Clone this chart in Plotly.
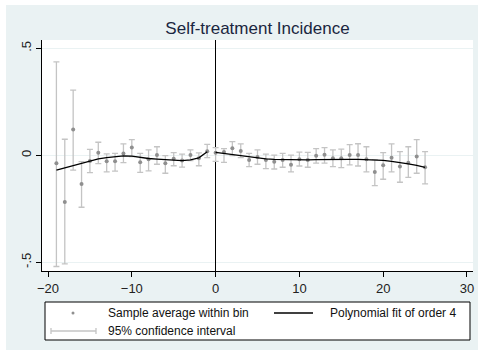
import plotly.graph_objects as go

# ---- data ----
bins = list(range(-19, 26))
avg = [-0.037, -0.218, 0.120, -0.134, -0.027, 0.012, -0.028, -0.028, 0.008,
       0.036, -0.033, -0.019, 0.001, -0.037, -0.016, -0.024, 0.001, -0.014, 0.019,
       0.012, 0.015, 0.033, 0.020, -0.022, -0.008, -0.022, -0.030, -0.022, -0.044,
       -0.019, -0.022, -0.002, 0.003, -0.014, -0.014, 0.001, 0.001, -0.019, -0.078,
       -0.047, -0.011, -0.053, -0.035, -0.006, -0.056]
ci_hi = [0.437, 0.075, 0.305, -0.030, 0.028, 0.061, 0.007, 0.009, 0.053,
         0.073, 0.009, 0.025, 0.040, -0.002, 0.012, 0.005, 0.025, 0.011, 0.051,
         0.036, 0.031, 0.064, 0.053, 0.009, 0.025, 0.005, 0.001, 0.009, 0.001,
         0.015, 0.014, 0.031, 0.036, 0.025, 0.029, 0.050, 0.054, 0.040, -0.020,
         0.012, 0.053, 0.017, 0.040, 0.073, 0.017]
ci_lo = [-0.520, -0.508, -0.069, -0.243, -0.081, -0.039, -0.078, -0.074, -0.034,
         -0.006, -0.080, -0.073, -0.042, -0.084, -0.049, -0.055, -0.025, -0.049, -0.011,
         -0.028, -0.033, -0.002, -0.011, -0.053, -0.042, -0.062, -0.064, -0.056, -0.078,
         -0.050, -0.056, -0.037, -0.037, -0.053, -0.058, -0.045, -0.050, -0.078, -0.142,
         -0.112, -0.078, -0.126, -0.103, -0.084, -0.134]

fit_left_x = list(range(-19, 0))
fit_left_y = [-0.069, -0.058, -0.050, -0.037, -0.027, -0.017, -0.011, -0.006, -0.003,
              -0.004, -0.010, -0.015, -0.018, -0.021, -0.024, -0.025, -0.021, -0.012, 0.017]
fit_right_x = list(range(0, 26))
fit_right_y = [0.014, 0.009, 0.003, -0.003, -0.008, -0.013, -0.017, -0.019, -0.020,
               -0.021, -0.022, -0.021, -0.020, -0.019, -0.019, -0.019, -0.019, -0.019,
               -0.020, -0.021, -0.024, -0.028, -0.033, -0.040, -0.047, -0.056]

x_ticks = [-20, -10, 0, 10, 20, 30]
y_ticks = [-0.5, 0, 0.5]
y_ticktext = ["-.5", "0", ".5"]
title_text = "Self-treatment Incidence"
legend_labels = ["Sample average within bin", "Polynomial fit of order 4", "95% confidence interval"]

BG = "#EAF2F3"
FONT = "Liberation Sans, Arial, sans-serif"

err_plus = [h - a for h, a in zip(ci_hi, avg)]
err_minus = [a - l for a, l in zip(avg, ci_lo)]

fig = go.Figure()
fig.add_trace(go.Scatter(
    x=bins, y=avg, mode="markers",
    marker=dict(color="#8f8f8f", size=4),
    error_y=dict(type="data", symmetric=False, array=err_plus, arrayminus=err_minus,
                 color="#c4c4c4", thickness=1.3, width=3),
    showlegend=False))
fig.add_trace(go.Scatter(x=fit_left_x, y=fit_left_y, mode="lines",
                         line=dict(color="black", width=1.3), showlegend=False))
fig.add_trace(go.Scatter(x=fit_right_x, y=fit_right_y, mode="lines",
                         line=dict(color="black", width=1.3), showlegend=False))

L, R, T, B = 42, 10, 40, 84
W, H = 483, 355
pw, ph = W - L - R, H - T - B


def px_x(p):
    return (p - L) / pw


def px_y(p):
    return (H - B - p) / ph


def white_strip(x0, x1, y0, y1):
    return dict(type="rect", xref="paper", yref="paper", layer="above",
                x0=px_x(x0), x1=px_x(x1), y0=px_y(y1), y1=px_y(y0),
                fillcolor="white", line=dict(width=0))


shapes = [
    # thin white outer border
    white_strip(-2, W + 2, -2, 5),
    white_strip(-2, W + 2, 350, H + 2),
    white_strip(-2, 6, -2, H + 2),
    white_strip(478, W + 2, -2, H + 2),
    # legend box
    dict(type="rect", xref="paper", yref="paper",
         x0=px_x(45), x1=px_x(470), y0=px_y(340), y1=px_y(302),
         fillcolor="white", line=dict(color="black", width=1)),
    # legend: sample dot
    dict(type="circle", xref="paper", yref="paper",
         x0=px_x(71.5), x1=px_x(74.5), y0=px_y(314.5), y1=px_y(311.5),
         fillcolor="#8f8f8f", line=dict(width=0)),
    # legend: fit line
    dict(type="line", xref="paper", yref="paper",
         x0=px_x(274), x1=px_x(313), y0=px_y(313), y1=px_y(313),
         line=dict(color="black", width=1.3)),
    # legend: CI symbol
    dict(type="line", xref="paper", yref="paper",
         x0=px_x(51), x1=px_x(96), y0=px_y(331), y1=px_y(331),
         line=dict(color="#c4c4c4", width=1.3)),
    dict(type="line", xref="paper", yref="paper",
         x0=px_x(51), x1=px_x(51), y0=px_y(328), y1=px_y(334),
         line=dict(color="#c4c4c4", width=1.3)),
    dict(type="line", xref="paper", yref="paper",
         x0=px_x(96), x1=px_x(96), y0=px_y(328), y1=px_y(334),
         line=dict(color="#c4c4c4", width=1.3)),
]

annotations = [
    dict(text=legend_labels[0], xref="paper", yref="paper", x=px_x(106), y=px_y(313),
         xanchor="left", yanchor="middle", showarrow=False,
         font=dict(family=FONT, size=12, color="#111111")),
    dict(text=legend_labels[1], xref="paper", yref="paper", x=px_x(328), y=px_y(313),
         xanchor="left", yanchor="middle", showarrow=False,
         font=dict(family=FONT, size=12, color="#111111")),
    dict(text=legend_labels[2], xref="paper", yref="paper", x=px_x(106), y=px_y(331),
         xanchor="left", yanchor="middle", showarrow=False,
         font=dict(family=FONT, size=12, color="#111111")),
]

fig.update_layout(
    width=W, height=H,
    margin=dict(l=L, r=R, t=T, b=B, pad=0),
    paper_bgcolor=BG, plot_bgcolor="white",
    title=dict(text=title_text, x=0.5, xref="paper", y=1 - 28 / H, yref="container",
               xanchor="center", yanchor="middle",
               font=dict(family=FONT, size=17, color="#1a2640")),
    shapes=shapes, annotations=annotations,
    showlegend=False,
    font=dict(family=FONT, size=13, color="#222222"),
)
fig.update_xaxes(range=[-20.72, 30.72], tickvals=x_ticks, ticks="outside", ticklen=5,
                 tickcolor="black", showline=True, linecolor="black", linewidth=1,
                 showgrid=False, zeroline=True, zerolinecolor="black", zerolinewidth=1,
                 tickfont=dict(size=13, color="#222222"))
fig.update_yaxes(range=[-0.541, 0.539], tickvals=y_ticks, ticktext=y_ticktext,
                 tickangle=-90, ticks="outside", ticklen=5, tickcolor="black",
                 showline=True, linecolor="black", linewidth=1,
                 showgrid=True, gridcolor=BG, gridwidth=1, zeroline=False,
                 tickfont=dict(size=13, color="#222222"))

fig.write_html("out.html")
